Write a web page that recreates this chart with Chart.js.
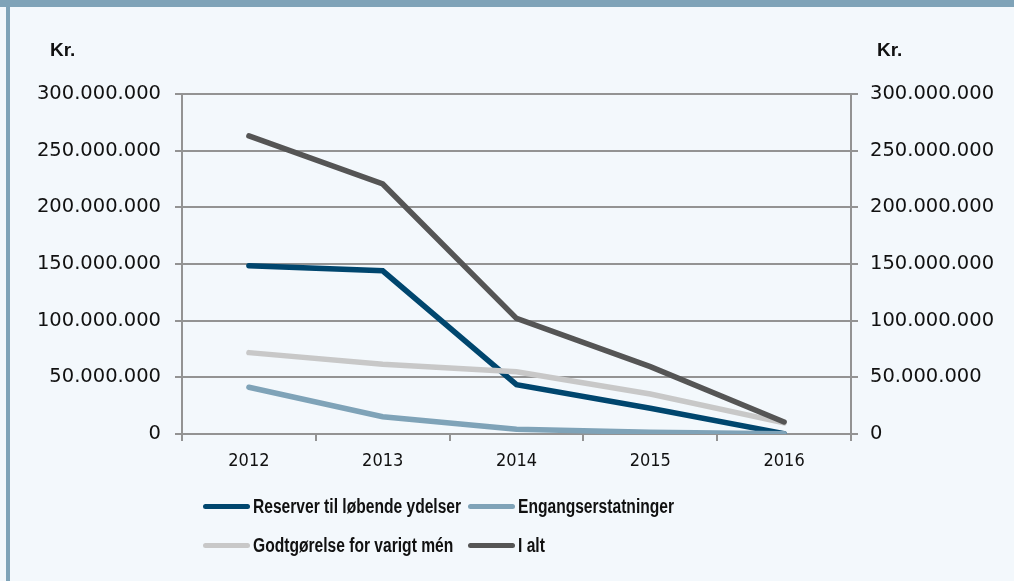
<!DOCTYPE html>
<html>
<head>
<meta charset="utf-8">
<script src="https://cdn.jsdelivr.net/npm/chart.js@4.4.1/dist/chart.umd.min.js"></script>
<style>
body { margin: 0; background: #f3f8fc; }
#wrap { position: relative; width: 1014px; height: 581px; overflow: hidden; background: #f3f8fc; }
#band { position: absolute; left: 0; top: 0; width: 1014px; height: 7px; background: #7fa3b8; }
#side { position: absolute; left: 6px; top: 0; width: 4px; height: 581px; background: #7fa3b8; }
#myChart { position: absolute; left: 0; top: 0; }
.kr { position: absolute; top: 39px; font: bold 19px "Liberation Sans", Arial, sans-serif; color: #111; }
#legend { position: absolute; left: 203px; top: 487px; display: grid; grid-template-columns: 265px 300px; grid-auto-rows: 39px; }
.item { display: flex; align-items: center; color: #111; white-space: nowrap; }
.swatch { flex-shrink: 0; width: 47px; height: 5px; border-radius: 3px; margin-right: 3px; }
.txt { display: inline-block; font: bold 20px "Liberation Sans", Arial, sans-serif; transform: scaleX(0.78); transform-origin: left center; }
</style>
</head>
<body>
<div id="wrap">
  <canvas id="myChart" width="1014" height="581"></canvas>
  <div id="band"></div>
  <div id="side"></div>
  <div class="kr" style="left:50px">Kr.</div>
  <div class="kr" style="left:877px">Kr.</div>
  <div id="legend"></div>
</div>
<script>
// år på x-aksen
var aar = ['2012', '2013', '2014', '2015', '2016'];

// værdier i kr.
var reserver = [148500000, 144000000, 43500000, 22700000, 300000];
var engangs = [41200000, 15300000, 4100000, 1500000, 300000];
var godtgoerelse = [71800000, 61500000, 55000000, 35300000, 9800000];
var iAlt = [263000000, 220600000, 102000000, 59400000, 10600000];

var serieNavne = ['Reserver til løbende ydelser', 'Engangserstatninger', 'Godtgørelse for varigt mén', 'I alt'];
var farver = ['#00466e', '#7fa3b8', '#c8c8c8', '#555555'];

// y-akse ticks
var yMin = 0, yMax = 300000000, yStep = 50000000;

// tal med punktum som tusindtalsseparator
function formatKr(v) {
    return String(Math.round(v)).replace(/\B(?=(\d{3})+(?!\d))/g, '.');
}

var gridFarve = '#939393';
var tickFont = { family: 'DejaVu Sans', size: 19.5 };

var data = [reserver, engangs, godtgoerelse, iAlt];
var datasets = data.map(function (d, i) {
    return {
        label: serieNavne[i],
        data: d,
        borderColor: farver[i],
        backgroundColor: farver[i],
        borderWidth: 5.5,
        pointRadius: 0,
        tension: 0,
        borderCapStyle: 'round',
        order: 4 - i, // sidste serie tegnes øverst
        yAxisID: 'y'
    };
});

const ctx = document.getElementById('myChart');
var myChart = new Chart(ctx, {
    type: 'line',
    data: { labels: aar, datasets: datasets },
    options: {
        responsive: false,
        animation: false,
        events: [],
        layout: { padding: { top: 94, bottom: 107, left: 0, right: 0 } },
        plugins: { legend: { display: false }, tooltip: { enabled: false } },
        scales: {
            x: {
                offset: true,
                grid: { offset: true, drawOnChartArea: false, drawTicks: true, tickLength: 7, color: gridFarve, lineWidth: 2 },
                border: { display: false },
                ticks: { color: '#111', padding: 10, font: { family: "'DejaVu Sans Condensed', sans-serif", size: 18 } },
                afterFit: function (scale) { scale.height = 40; }
            },
            y: {
                position: 'left',
                min: yMin, max: yMax,
                ticks: { stepSize: yStep, color: '#111', padding: 14, font: tickFont, callback: formatKr },
                grid: { color: gridFarve, lineWidth: 2, tickLength: 7 },
                border: { color: gridFarve, width: 2 },
                afterFit: function (scale) { scale.width = 182; }
            },
            y2: {
                position: 'right',
                min: yMin, max: yMax,
                ticks: { stepSize: yStep, color: '#111', padding: 12, font: tickFont, callback: formatKr },
                grid: { drawOnChartArea: false, color: gridFarve, lineWidth: 2, tickLength: 7 },
                border: { color: gridFarve, width: 2 },
                afterFit: function (scale) { scale.width = 163; }
            }
        }
    }
});

// legende bygget fra datasættene
var legend = document.getElementById('legend');
myChart.data.datasets.forEach(function (ds) {
    var item = document.createElement('div');
    item.className = 'item';
    var sw = document.createElement('span');
    sw.className = 'swatch';
    sw.style.background = ds.borderColor;
    var txt = document.createElement('span');
    txt.className = 'txt';
    txt.textContent = ds.label;
    item.appendChild(sw);
    item.appendChild(txt);
    legend.appendChild(item);
});
</script>
</body>
</html>
